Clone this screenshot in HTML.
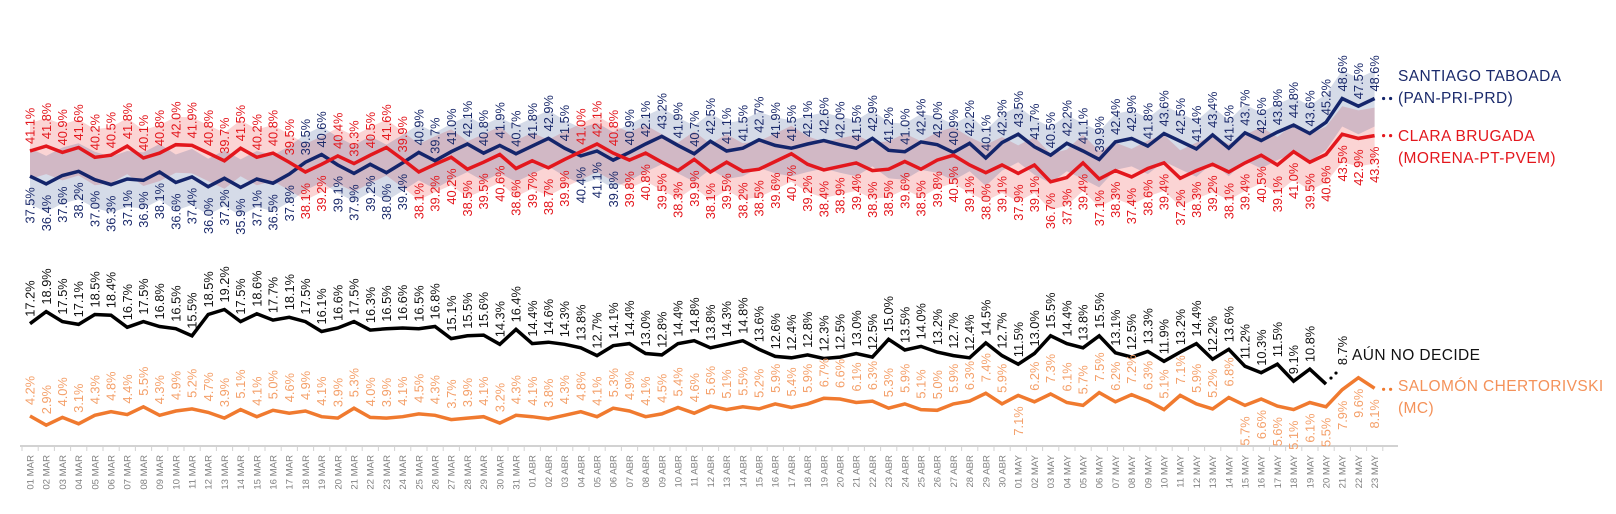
<!DOCTYPE html>
<html><head><meta charset="utf-8">
<style>
html,body{margin:0;padding:0;background:#fff;}
svg{display:block;font-family:"Liberation Sans",sans-serif;}
</style></head>
<body>
<svg id="chart" width="1616" height="514" viewBox="0 0 1616 514" xmlns="http://www.w3.org/2000/svg">
<g id="bands"></g>
<g id="axis"></g>
<g id="lines"></g>
<g id="labels"></g>
<g id="legend">
  <text x="1398" y="81" font-size="15.5" fill="#1b2a6b" letter-spacing="0.4">SANTIAGO TABOADA</text>
  <text x="1398" y="103" font-size="15.5" fill="#1b2a6b" letter-spacing="0.4">(PAN-PRI-PRD)</text>
  <text x="1398" y="141" font-size="15.5" fill="#e3171d" letter-spacing="0.4">CLARA BRUGADA</text>
  <text x="1398" y="163" font-size="15.5" fill="#e3171d" letter-spacing="0.4">(MORENA-PT-PVEM)</text>
  <text x="1352" y="360" font-size="15.5" fill="#111" letter-spacing="0.4">AÚN NO DECIDE</text>
  <text x="1398" y="391" font-size="15.5" fill="#f4925a" letter-spacing="0.4">SALOMÓN CHERTORIVSKI</text>
  <text x="1398" y="413" font-size="15.5" fill="#f4925a" letter-spacing="0.4">(MC)</text>
</g>
</svg>
<script>
const dates = [];
for (let d = 1; d <= 31; d++) dates.push((d<10?'0':'')+d+' MAR');
for (let d = 1; d <= 30; d++) dates.push((d<10?'0':'')+d+' ABR');
for (let d = 1; d <= 23; d++) dates.push((d<10?'0':'')+d+' MAY');

const taboada = [37.5,36.4,37.6,38.2,37.0,36.3,37.1,36.9,38.1,36.6,37.4,36.0,37.2,35.9,37.1,36.5,
37.8,39.5,40.6,39.1,37.9,39.2,38.0,39.4,40.9,39.7,41.0,42.1,40.8,41.9,40.7,
41.8,42.9,41.5,40.4,41.1,39.8,40.9,42.1,43.2,41.9,40.7,42.5,41.1,41.5,42.7,41.9,41.5,42.1,42.6,42.0,41.5,
42.9,41.2,41.0,42.4,42.0,40.9,42.2,40.1,42.3,
43.5,41.7,40.5,42.2,41.1,39.9,42.4,42.9,41.8,43.6,42.5,41.4,43.4,41.5,43.7,42.6,43.8,44.8,43.6,45.2,48.6,47.5,48.6];

const brugada = [41.1,41.8,40.9,41.6,40.2,40.5,41.8,40.1,40.8,42.0,41.9,40.8,39.7,41.5,40.2,40.8,
39.5,38.1,39.2,40.4,39.3,40.5,41.6,39.9,38.1,39.2,40.2,38.5,39.5,40.6,38.6,
39.7,38.7,39.9,41.0,42.1,40.8,39.8,40.8,39.5,38.3,39.9,38.1,39.5,38.2,38.5,39.6,40.7,39.2,38.4,38.9,39.4,
38.3,38.5,39.6,38.5,39.8,40.5,39.1,38.0,39.1,
37.9,39.1,36.7,37.3,39.4,37.1,38.3,37.4,38.6,39.4,37.2,38.3,39.2,38.1,39.4,40.5,39.1,41.0,39.5,40.6,43.5,42.9,43.3];

const undecided = [17.2,18.9,17.5,17.1,18.5,18.4,16.7,17.5,16.8,16.5,15.5,18.5,19.2,17.5,18.6,17.7,18.1,17.5,16.1,16.6,17.5,16.3,16.5,16.6,16.5,16.8,15.1,15.5,15.6,14.3,16.4,
14.4,14.6,14.3,13.8,12.7,14.1,14.4,13.0,12.8,14.4,14.8,13.8,14.3,14.8,13.6,12.6,12.4,12.8,12.3,12.5,13.0,12.5,15.0,13.5,14.0,13.2,12.7,12.4,14.5,12.7,
11.5,13.0,15.5,14.4,13.8,15.5,13.1,12.5,13.3,11.9,13.2,14.4,12.2,13.6,11.2,10.3,11.5,9.1,10.8,8.7];

const chertorivski = [4.2,2.9,4.0,3.1,4.3,4.8,4.4,5.5,4.3,4.9,5.2,4.7,3.9,5.1,4.1,5.0,4.6,4.9,4.1,3.9,5.3,4.0,3.9,4.1,4.5,4.3,3.7,3.9,4.1,3.2,4.3,
4.1,3.8,4.3,4.8,4.1,5.3,4.9,4.1,4.5,5.4,4.6,5.6,5.1,5.5,5.2,5.9,5.4,5.9,6.7,6.6,6.1,6.3,5.3,5.9,5.1,5.0,5.9,6.3,7.4,5.9,
7.1,6.2,7.3,6.1,5.7,7.5,6.2,7.2,6.3,5.1,7.1,5.9,5.2,6.8,5.7,6.6,5.6,5.1,6.1,5.5,7.9,9.6,8.1];

const chertorivskiLabelBelow = ['01 MAY','15 MAY','16 MAY','17 MAY','18 MAY','19 MAY','20 MAY','21 MAY','22 MAY','23 MAY'];

const NS = 'http://www.w3.org/2000/svg';
const X0 = 30, DX = 16.2;
function x(i){ return X0 + i*DX; }
function yTop(v){ return 151 - (v-41.1)*7.0; }
function yBot(v){ return 416 - (v-4.2)*7.1; }
function mk(tag, attrs, parent){ const e=document.createElementNS(NS,tag); for(const k in attrs) e.setAttribute(k,attrs[k]); parent.appendChild(e); return e; }
const fmt = v => v.toFixed(1)+'%';

const bands = document.getElementById('bands');
function band(arr, fill, name){
  const up = arr.map((v,i)=>x(i).toFixed(1)+','+yTop(v+4).toFixed(1));
  const dn = arr.map((v,i)=>x(i).toFixed(1)+','+yTop(v-4).toFixed(1)).reverse();
  const p = mk('polygon',{points:up.concat(dn).join(' '),fill:fill},bands);
  
  
}
band(brugada,'rgba(238,60,60,0.22)','brugada-band');
band(taboada,'rgba(45,75,140,0.2)','taboada-band');

const axis = document.getElementById('axis');
const al = mk('line',{x1:20,y1:446,x2:1398,y2:446,stroke:'#d2d2d2','stroke-width':2},axis);


for (let i=0;i<=dates.length;i++){
  const t = mk('line',{x1:x(i)-8,y1:446,x2:x(i)-8,y2:451,stroke:'#d2d2d2','stroke-width':1},axis);
  
  
}
dates.forEach((d,i)=>{
  const t = mk('text',{transform:`translate(${(x(i)+3.5).toFixed(1)},455) rotate(-90)`,'text-anchor':'end','font-size':'9.6',fill:'#808080'},axis);
  t.textContent = d;
  
  
});

const lines = document.getElementById('lines');
function line(arr, yf, color, name, w){
  const pts = arr.map((v,i)=>x(i).toFixed(1)+','+yf(v).toFixed(1)).join(' ');
  const p = mk('polyline',{points:pts,fill:'none',stroke:color,'stroke-width':w||3.5,'stroke-linejoin':'miter'},lines);
  
  
}
line(taboada,yTop,'#14256b','taboada-line');
line(brugada,yTop,'#e3171d','brugada-line');
line(undecided,yBot,'#000','undecided-line');
line(chertorivski,yBot,'#f07a2f','chertorivski-line');

function dots(xs, ys, color, name){
  xs.forEach((xx,k)=>{
    const c = mk('circle',{cx:xx,cy:ys[k],r:1.6,fill:color},lines);
    
    
  });
}
const L = taboada.length-1;
dots([x(L)+9,x(L)+16],[yTop(taboada[L]),yTop(taboada[L])],'#14256b','taboada-legend-dots');
dots([x(L)+9,x(L)+16],[yTop(brugada[L]),yTop(brugada[L])],'#e3171d','brugada-legend-dots');
dots([x(L)+9,x(L)+16],[yBot(chertorivski[L])+1,yBot(chertorivski[L])+1],'#f07a2f','chertorivski-legend-dots');
const U = undecided.length-1;
dots([x(U)+5,x(U)+10],[yBot(undecided[U])-6,yBot(undecided[U])-11],'#000','undecided-dots');

const labels = document.getElementById('labels');
function lab(i, yy, v, above, color, name){
  const t = mk('text',{transform:`translate(${(x(i)+4.6).toFixed(1)},${(above?yy-7:yy+11).toFixed(1)}) rotate(-90)`,'text-anchor':above?'start':'end','font-size':'12.8',fill:color},labels);
  t.textContent = fmt(v);
  
  
}
taboada.forEach((v,i)=>{
  const up = v >= brugada[i];
  lab(i, yTop(v), v, up, '#1b2a6b', 'taboada-value-label');
  lab(i, yTop(brugada[i]), brugada[i], !up, '#e3171d', 'brugada-value-label');
});
undecided.forEach((v,i)=>{
  if (i === U){ lab(i+1, yBot(v)-12, v, true, '#111', 'undecided-value-label'); return; }
  lab(i, yBot(v), v, true, '#111', 'undecided-value-label');
});
chertorivski.forEach((v,i)=>{
  const below = chertorivskiLabelBelow.indexOf(dates[i]) >= 0;
  lab(i, yBot(v) + (below?0:-4), v, !below, '#f4a06a', 'chertorivski-value-label');
});
</script>
</body></html>
